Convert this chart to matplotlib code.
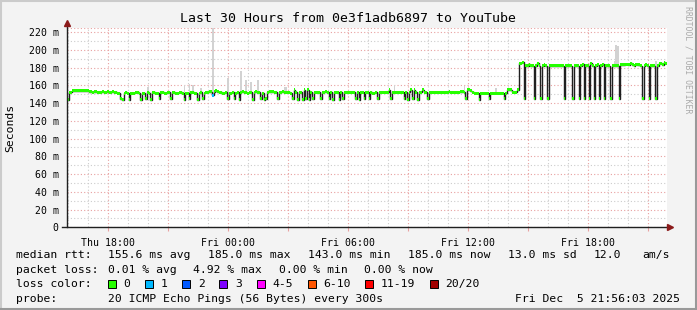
import matplotlib
matplotlib.use("Agg")
import matplotlib.pyplot as plt
import matplotlib.dates as mdates
from matplotlib.lines import Line2D
from matplotlib.patches import Rectangle
from matplotlib.ticker import MultipleLocator, FuncFormatter
import numpy as np
import pandas as pd

plt.rcParams["font.family"] = "DejaVu Sans Mono"

title = "Last 30 Hours from 0e3f1adb6897 to YouTube"
end_time = "2025-12-05 21:56:03"

# median rtt, one value per 5 minute step (ms)
median_ms = [
    144, 152, 152, 154, 154, 154, 154, 154, 154, 154, 154, 154, 154, 153, 153, 152, 153, 153, 152, 152,
    152, 153, 152, 152, 153, 152, 152, 153, 152, 152, 151, 151, 145, 144, 151, 152, 151, 144, 151, 151,
    151, 152, 152, 151, 144, 151, 151, 145, 152, 151, 144, 152, 152, 151, 151, 145, 152, 152, 151, 151,
    152, 152, 145, 152, 152, 151, 151, 152, 152, 151, 144, 151, 151, 145, 152, 152, 151, 151, 144, 151,
    152, 145, 151, 152, 152, 153, 153, 149, 153, 154, 153, 152, 152, 151, 151, 152, 145, 151, 151, 152,
    145, 151, 152, 144, 152, 153, 152, 152, 151, 152, 152, 144, 152, 153, 152, 152, 145, 151, 144, 145,
    152, 153, 153, 153, 152, 152, 145, 152, 152, 153, 152, 152, 152, 152, 151, 145, 155, 152, 144, 152,
    152, 144, 155, 145, 155, 144, 152, 145, 152, 152, 152, 152, 145, 152, 152, 153, 152, 145, 152, 144,
    152, 152, 152, 144, 152, 145, 152, 152, 152, 152, 152, 152, 152, 145, 152, 144, 152, 152, 145, 152,
    152, 145, 152, 151, 151, 152, 145, 152, 152, 152, 152, 152, 152, 155, 145, 152, 152, 152, 152, 152,
    152, 152, 145, 152, 144, 152, 155, 145, 155, 152, 144, 152, 152, 155, 152, 152, 145, 152, 152, 152,
    152, 152, 152, 152, 152, 152, 152, 152, 152, 153, 152, 152, 152, 152, 152, 152, 153, 153, 152, 145,
    155, 155, 154, 152, 151, 151, 151, 144, 151, 151, 151, 151, 151, 145, 151, 151, 151, 151, 151, 151,
    151, 151, 145, 151, 155, 155, 155, 152, 152, 152, 155, 185, 185, 186, 145, 182, 182, 184, 182, 182,
    145, 182, 185, 182, 145, 182, 183, 182, 145, 182, 182, 182, 182, 182, 182, 182, 182, 182, 145, 182,
    182, 182, 182, 145, 182, 182, 182, 145, 182, 184, 145, 182, 182, 145, 185, 182, 145, 182, 183, 145,
    182, 184, 145, 182, 182, 182, 145, 182, 182, 182, 182, 145, 183, 183, 183, 184, 184, 183, 185, 183,
    182, 184, 183, 183, 182, 145, 182, 183, 182, 145, 182, 182, 182, 145, 182, 185, 185, 183, 186, 185,
]

# steps with lost packets (out of 20)
loss_idx = [87]
loss_cnt = [1]

# smoke spikes: step index and top of the smoke (ms)
smoke_idx = [48, 70, 73, 75, 80, 87, 96, 104, 107, 110, 114, 130, 131, 196, 238, 257, 328, 329, 330, 353]
smoke_top = [158, 160, 161, 160, 157, 240, 168, 176, 166, 164, 166, 158, 158, 160, 159, 157, 188, 205, 204, 187]

loss_labels = ["0", "1", "2", "3", "4-5", "6-10", "11-19", "20/20"]
loss_colors = ["#26ff00", "#00b8ff", "#0059ff", "#7e00ff", "#ff00ff", "#ff5500", "#ff0000", "#a10000"]
loss_upper = [0, 1, 2, 3, 5, 10, 19, 20]

rtt_stats = ["155.6 ms avg", "185.0 ms max", "143.0 ms min", "185.0 ms now", "13.0 ms sd", "12.0", "am/s"]
loss_stats = ["0.01 % avg", "4.92 % max", "0.00 % min", "0.00 % now"]
probe_text = "20 ICMP Echo Pings (56 Bytes) every 300s"
stamp_text = "Fri Dec  5 21:56:03 2025"

W, H = 697, 310


def fx(px):
    return px / W


def fy(py):
    return 1 - py / H


n = len(median_ms)
med = np.array(median_ms, dtype=float)
edges = pd.date_range(end=pd.Timestamp(end_time), periods=n + 1, freq="300s")
xe = mdates.date2num(edges.to_pydatetime())
step = xe[1] - xe[0]

loss = np.zeros(n, dtype=int)
loss[loss_idx] = loss_cnt
cols = [loss_colors[k] for k in np.searchsorted(loss_upper, loss)]

fig = plt.figure(figsize=(W / 100, H / 100), dpi=100, facecolor="#f3f3f3")
top_px, bot_px = 27.7, 227.3
ax = fig.add_axes([fx(67), fy(bot_px), 600 / W, (bot_px - top_px) / H])
ax.set_facecolor("white")

# smoke
sm_i = np.array(smoke_idx)
ax.bar(xe[sm_i], np.array(smoke_top) - med[sm_i], bottom=med[sm_i], width=step,
       align="edge", color="#d2d2d2", linewidth=0, zorder=2)

# median: dark step line plus loss-coloured band
ax.stairs(med, xe, color="#202020", lw=1.0, baseline=None, zorder=3)
sw = 1.7
ax.bar(xe[:-1], 2 * sw, bottom=med - sw, width=step, align="edge",
       color=cols, linewidth=0, zorder=4)

ax.set_xlim(xe[0], xe[-1])
ax.set_ylim(0, 225)

# grid
red = "#e8a0a0"
grey = "#cccccc"
dots = (0, (1, 2))
ax.yaxis.set_major_locator(MultipleLocator(20))
ax.yaxis.set_minor_locator(MultipleLocator(10))
ax.yaxis.set_major_formatter(FuncFormatter(lambda v, p: "0" if v == 0 else f"{v:.0f} m"))
ax.xaxis.set_major_locator(mdates.HourLocator(byhour=range(0, 24, 3)))
ax.xaxis.set_minor_locator(mdates.HourLocator(interval=1))
ax.xaxis.set_major_formatter(FuncFormatter(
    lambda v, p: mdates.num2date(v).strftime("%a %H:%M") if mdates.num2date(v).hour % 6 == 0 else ""))
ax.grid(which="minor", color=grey, linestyle=dots, lw=0.8, zorder=0)
ax.grid(which="major", color=red, linestyle=dots, lw=0.8, zorder=1)
ax.axhline(225, color=red, linestyle=dots, lw=0.8, zorder=1)
ax.set_axisbelow(True)

ax.tick_params(axis="x", which="major", length=3, color=red, width=0.8, pad=4.5, labelsize=7.1)
ax.tick_params(axis="y", which="major", length=0, pad=6, labelsize=7.1)
ax.tick_params(which="minor", length=0)
for s in ax.spines.values():
    s.set_visible(False)

# axes with arrows
ax.plot([-5 / 600, 1 + 1 / 600], [0, 0], color="#202020", lw=1.0, transform=ax.transAxes, clip_on=False, zorder=6)
ax.plot([0, 0], [0, 1 + 3 / 200], color="#202020", lw=1.0, transform=ax.transAxes, clip_on=False, zorder=6)
ax.plot([1 + 3 / 600], [0], marker=">", markersize=4, color="#8b1a1a", transform=ax.transAxes, clip_on=False, zorder=7)
ax.plot([0], [1 + 5 / 200], marker="^", markersize=4, color="#8b1a1a", transform=ax.transAxes, clip_on=False, zorder=7)

# titles
fig.text(fx(348), fy(19), title, ha="center", va="center", fontsize=9.55)
fig.text(fx(10), fy(127.5), "Seconds", rotation=90, ha="center", va="center", fontsize=8.2)
fig.text(fx(688), fy(60), "RRDTOOL / TOBI OETIKER", rotation=270, ha="center", va="center",
         fontsize=5.9, color="#aaaaaa")

# legend rows
fs = 8.2
cw = 6.86
rows = [254, 269, 283, 297.5]
fig.text(fx(15.6), fy(rows[0] + 4), "median rtt:", fontsize=fs, va="baseline")
for s, px in zip(rtt_stats, [107.6, 207.6, 307.6, 407.6, 507.6, 593.3, 642.2]):
    fig.text(fx(px), fy(rows[0] + 4), s, fontsize=fs, va="baseline")
fig.text(fx(15.6), fy(rows[1] + 4), "packet loss:", fontsize=fs, va="baseline")
for s, px in zip(loss_stats, [107.6, 193.3, 279.1, 364.4]):
    fig.text(fx(px), fy(rows[1] + 4), s, fontsize=fs, va="baseline")
fig.text(fx(15.6), fy(rows[2] + 4), "loss color:", fontsize=fs, va="baseline")
bx = 108
for lab, c in zip(loss_labels, loss_colors):
    fig.add_artist(Rectangle((fx(bx), fy(rows[2] + 4.5)), 8 / W, 8 / H, transform=fig.transFigure,
                             facecolor=c, edgecolor="black", lw=0.7))
    fig.text(fx(bx + 15.5), fy(rows[2] + 4), lab, fontsize=fs, va="baseline")
    bx = bx + 15.5 + len(lab) * cw + 14.8
fig.text(fx(15.6), fy(rows[3] + 4), "probe:", fontsize=fs, va="baseline")
fig.text(fx(107.6), fy(rows[3] + 4), probe_text, fontsize=fs, va="baseline")
fig.text(fx(680), fy(rows[3] + 4), stamp_text, fontsize=fs, va="baseline", ha="right")

# frame shading
fig.add_artist(Line2D([0, 1], [1 - 1 / H, 1 - 1 / H], color="#cbcbcb", lw=1.5, transform=fig.transFigure))
fig.add_artist(Line2D([1 / W, 1 / W], [0, 1], color="#cbcbcb", lw=1.5, transform=fig.transFigure))
fig.add_artist(Line2D([0, 1], [1 / H, 1 / H], color="#999999", lw=1.5, transform=fig.transFigure))
fig.add_artist(Line2D([1 - 1 / W, 1 - 1 / W], [0, 1], color="#999999", lw=1.5, transform=fig.transFigure))

fig.savefig("out.png", dpi=100, facecolor=fig.get_facecolor())
